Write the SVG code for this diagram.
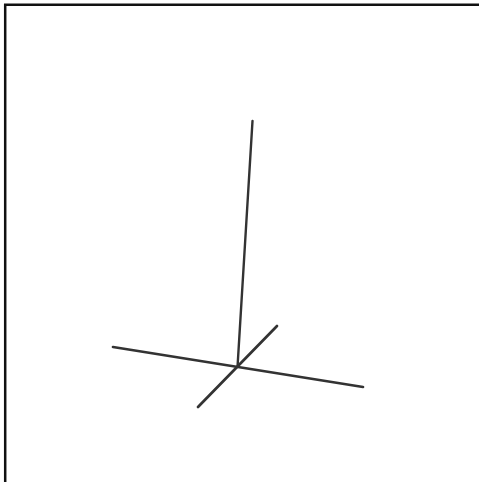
<svg xmlns="http://www.w3.org/2000/svg" width="479" height="482" viewBox="0 0 479 482">
<style>.a{fill:none;stroke:#333;stroke-linecap:round}</style>
<rect width="479" height="482" fill="#fff"/>
<path d="M5.200 482V4.800H479" fill="none" stroke="#111" stroke-width="2.500"/>
<g id="connectors">
<line class="a" x1="252.500" y1="121" x2="237.500" y2="367" stroke-width="2.400"/>
<line class="a" x1="113" y1="347" x2="363" y2="387" stroke-width="2.700"/>
<line class="a" x1="277" y1="326" x2="198" y2="407" stroke-width="2.700"/>
</g>
</svg>
